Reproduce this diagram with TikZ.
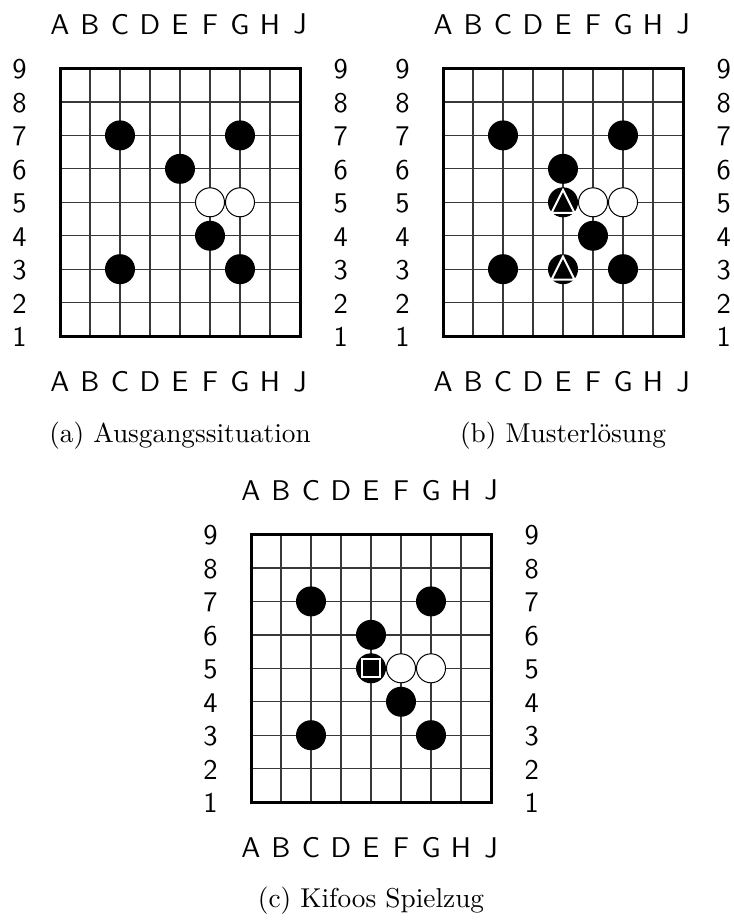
\documentclass[tikz,border=0pt]{standalone}
\usepackage{fontspec}
\newfontfamily\lblfont{lmsans10-regular}[Extension=.otf]
\newfontfamily\capfont{lmroman10-regular}[Extension=.otf]
\begin{document}
\begin{tikzpicture}[x=1pt,y=-1pt,
  gridline/.style={line width=1.3pt, black!78},
  frame/.style={line width=3pt, black},
  lbl/.style={font=\lblfont\fontsize{28.5}{30}\selectfont, inner sep=0pt},
  captext/.style={font=\capfont\fontsize{27.3}{30}\selectfont, inner sep=0pt, anchor=base},
  bst/.style={circle, fill=black, minimum size=30pt, inner sep=0pt},
  wst/.style={circle, fill=white, draw=black, line width=1pt, minimum size=29pt, inner sep=0pt},
  stonemark/.style={white, line width=2pt},
]
\useasboundingbox (0,0) rectangle (733,920);

\foreach \bx/\by/\b in {60/68.5/a, 443/68.5/b, 251/534.5/c}{
  \begin{scope}[shift={(\bx pt,-\by pt)}, x=30pt, y=-33.45pt]
    \foreach \i in {1,...,7}{
      \draw[gridline] (\i,0) -- (\i,8);
      \draw[gridline] (0,\i) -- (8,\i);
    }
    \draw[frame] (0,0) rectangle (8,8);
    \foreach \l [count=\i from 0] in {A,B,C,D,E,F,G,H,J}{
      \node[lbl] (\b top\i) at (\i,-1.32) {\l};
      \node[lbl] (\b bot\i) at (\i,9.37) {\l};
    }
    \foreach \n [count=\j from 0] in {9,8,7,6,5,4,3,2,1}{
      \node[lbl] (\b left\j) at (-1.35,\j+0.03) {\n};
      \node[lbl] (\b right\j) at (9.36,\j+0.03) {\n};
    }
    \node[bst] (\b C7) at (2,2) {};
    \node[bst] (\b G7) at (6,2) {};
    \node[bst] (\b E6) at (4,3) {};
    \node[bst] (\b F4) at (5,5) {};
    \node[bst] (\b C3) at (2,6) {};
    \node[bst] (\b G3) at (6,6) {};
    \node[wst] (\b F5) at (5,4) {};
    \node[wst] (\b G5) at (6,4) {};
  \end{scope}
}

% board (b) extra stones with triangle marks
\begin{scope}[shift={(443pt,-68.5pt)}, x=30pt, y=-33.45pt]
  \node[bst] (bE5) at (4,4) {};
  \node[bst] (bE3) at (4,6) {};
  \draw[stonemark] (bE5.center) ++(0pt,12.5pt) -- ++(11.5pt,-23pt) -- ++(-23pt,0pt) -- cycle;
  \draw[stonemark] (bE3.center) ++(0pt,12.5pt) -- ++(11.5pt,-23pt) -- ++(-23pt,0pt) -- cycle;
\end{scope}

% board (c) extra stone with square mark
\begin{scope}[shift={(251pt,-534.5pt)}, x=30pt, y=-33.45pt]
  \node[bst] (cE5) at (4,4) {};
  \draw[stonemark] (cE5.center) ++(-9pt,-9pt) rectangle ++(18pt,18pt);
\end{scope}

\node[captext] (capa) at (180,442) {(a) Ausgangssituation};
\node[captext] (capb) at (563,442) {(b) Musterlösung};
\node[captext] (capc) at (371,907) {(c) Kifoos Spielzug};
\end{tikzpicture}
\end{document}
